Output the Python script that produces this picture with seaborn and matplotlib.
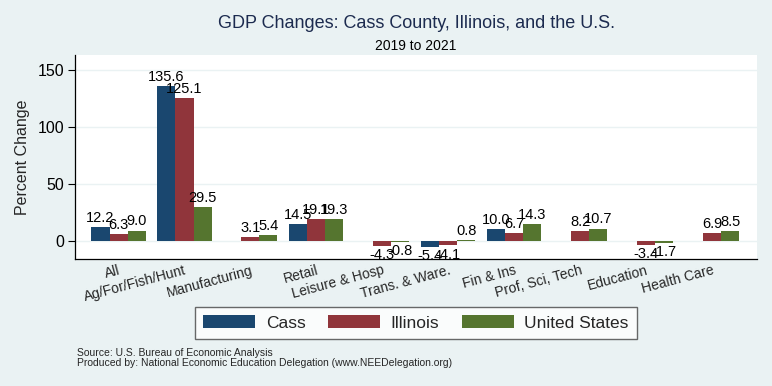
import matplotlib
matplotlib.use("Agg")
import matplotlib.pyplot as plt
import numpy as np
import pandas as pd
import seaborn as sns

categories = [
    "All", "Ag/For/Fish/Hunt", "Manufacturing", "Retail", "Leisure & Hosp",
    "Trans. & Ware.", "Fin & Ins", "Prof, Sci, Tech", "Education", "Health Care",
]
cass = [12.2, 135.6, np.nan, 14.5, np.nan, -5.4, 10.0, np.nan, np.nan, np.nan]
illinois = [6.3, 125.1, 3.1, 19.1, -4.3, -4.1, 6.7, 8.2, -3.4, 6.9]
united_states = [9.0, 29.5, 5.4, 19.3, -0.8, 0.8, 14.3, 10.7, -1.7, 8.5]
series = ["Cass", "Illinois", "United States"]
colors = ["#1a476f", "#90353b", "#55752f"]

bg = "#eaf2f3"


def main():
    df = pd.DataFrame({"Sector": categories, "Cass": cass,
                       "Illinois": illinois, "United States": united_states})
    long = df.melt(id_vars="Sector", var_name="Area", value_name="Change").dropna()

    sns.set_theme(style="white")
    plt.rcParams["font.family"] = ["Liberation Sans", "DejaVu Sans"]

    fig = plt.figure(figsize=(7.72, 3.86), dpi=100, facecolor=bg)
    ax = fig.add_axes([75 / 772, 1 - 259 / 386, (757 - 75) / 772, (259 - 55) / 386])
    ax.set_facecolor("white")

    sns.barplot(data=long, x="Sector", y="Change", hue="Area", order=categories,
                hue_order=series, palette=colors, width=0.82, errorbar=None,
                saturation=1, linewidth=0, ax=ax)

    for cont in ax.containers:
        ax.bar_label(cont, fmt="%.1f", padding=1.5, fontsize=10.5, color="black")

    ax.set_ylim(-16, 163)
    ax.set_xlim(-0.66, 9.68)
    ax.set_yticks([0, 50, 100, 150])
    ax.yaxis.grid(True, color=bg, linewidth=1)
    ax.set_axisbelow(True)
    ax.tick_params(axis="y", labelsize=11.5, length=5, width=0.8, left=True,
                   direction="out", colors="black", pad=3)
    ax.tick_params(axis="x", length=0, pad=3)
    ax.set_xticks(range(len(categories)))
    ax.set_xticklabels(categories, rotation=15, ha="right",
                       rotation_mode="anchor", fontsize=10)
    ax.set_xlabel("")
    ax.set_ylabel("Percent Change", fontsize=11.5, labelpad=5)
    for side in ["top", "right"]:
        ax.spines[side].set_visible(False)
    for side in ["left", "bottom"]:
        ax.spines[side].set_color("black")
        ax.spines[side].set_linewidth(0.9)

    handles, labels = ax.get_legend_handles_labels()
    ax.legend_.remove()
    fig.legend(handles, labels, loc="center", bbox_to_anchor=(416 / 772, 1 - 323 / 386),
               ncol=3, frameon=True, fancybox=False, edgecolor="#444444",
               facecolor="white", fontsize=12.5, handlelength=3.0, handleheight=0.75,
               columnspacing=1.3, handletextpad=0.6, borderpad=0.45, borderaxespad=0)

    fig.text(416 / 772, 1 - 24 / 386, "GDP Changes: Cass County, Illinois, and the U.S.",
             ha="center", va="center", fontsize=13, color="#1c2b4f")
    fig.text(416 / 772, 1 - 46 / 386, "2019 to 2021", ha="center", va="center",
             fontsize=10, color="black")
    fig.text(77 / 772, 1 - 353 / 386, "Source: U.S. Bureau of Economic Analysis",
             ha="left", va="center", fontsize=7.5)
    fig.text(77 / 772, 1 - 363 / 386,
             "Produced by: National Economic Education Delegation (www.NEEDelegation.org)",
             ha="left", va="center", fontsize=7.5)

    fig.savefig("out.png", dpi=100, facecolor=bg)


if __name__ == "__main__":
    main()
